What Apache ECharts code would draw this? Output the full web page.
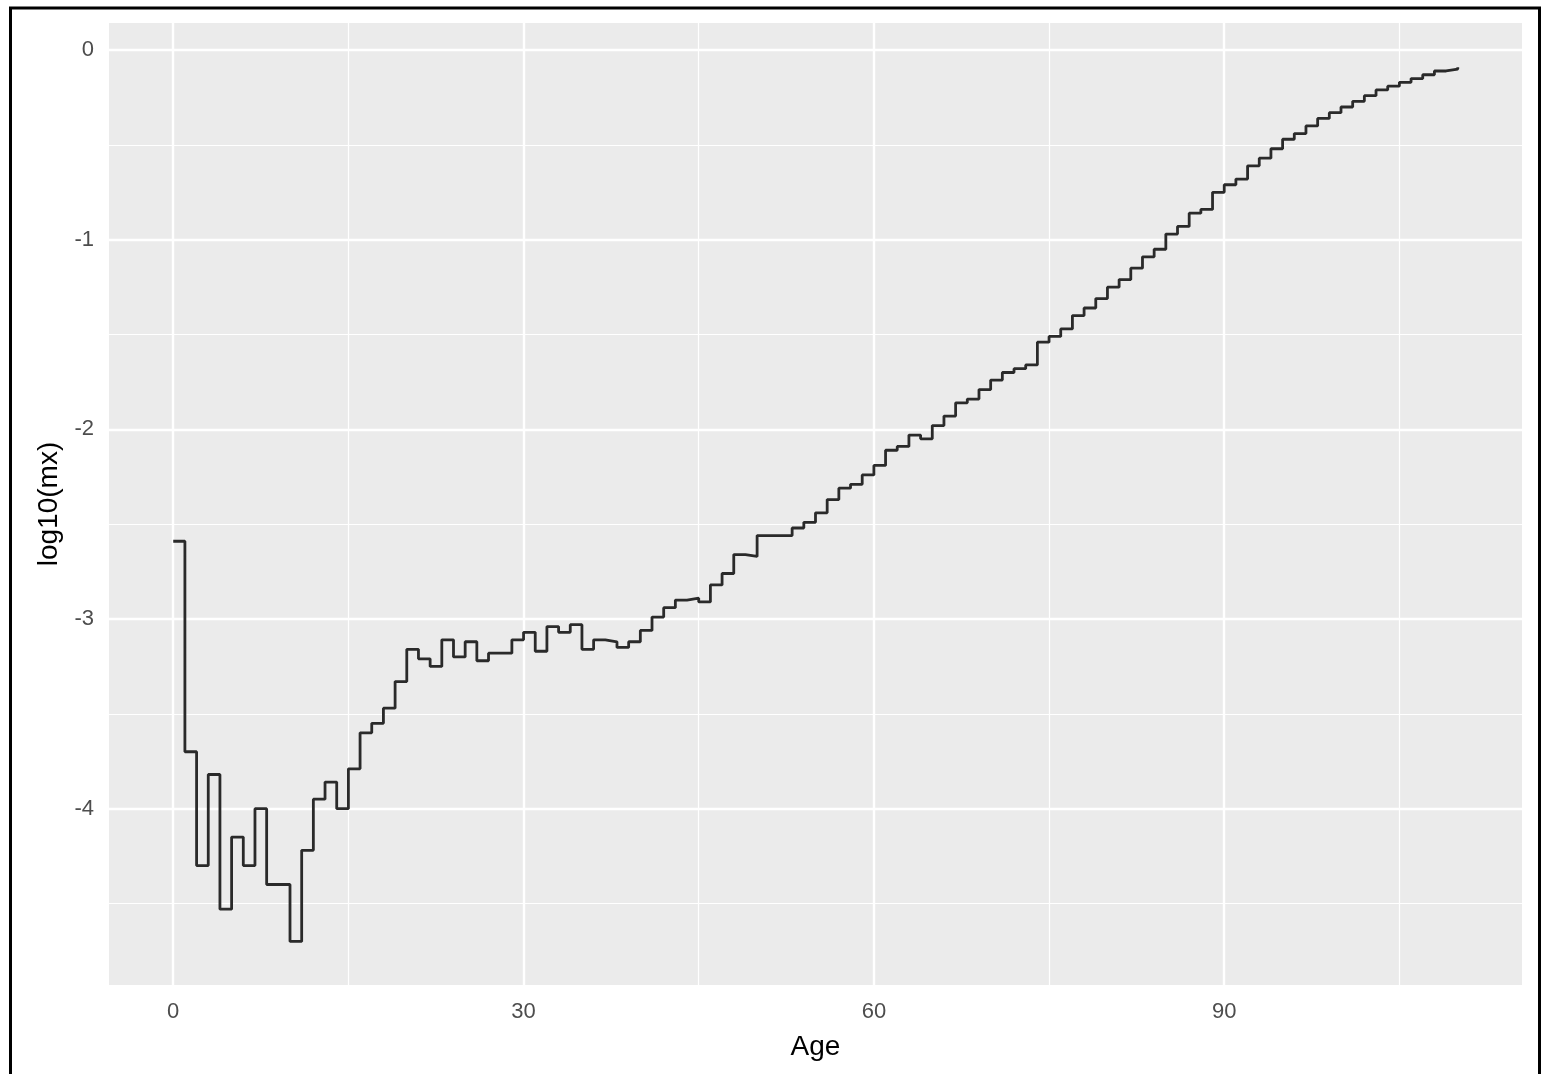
<!DOCTYPE html>
<html>
<head>
<meta charset="utf-8">
<title>log10(mx) by age</title>
<script src="https://cdn.jsdelivr.net/npm/echarts@6/dist/echarts.min.js"></script>
<style>
  html, body { margin: 0; padding: 0; background: #fff; }
  #chart { width: 1541px; height: 1074px; }
</style>
</head>
<body>
<div id="chart"></div>
<script>
// ages 0..110 and log10 death rates
var ages = [
  0, 1, 2, 3, 4, 5, 6, 7, 8, 9,
  10, 11, 12, 13, 14, 15, 16, 17, 18, 19,
  20, 21, 22, 23, 24, 25, 26, 27, 28, 29,
  30, 31, 32, 33, 34, 35, 36, 37, 38, 39,
  40, 41, 42, 43, 44, 45, 46, 47, 48, 49,
  50, 51, 52, 53, 54, 55, 56, 57, 58, 59,
  60, 61, 62, 63, 64, 65, 66, 67, 68, 69,
  70, 71, 72, 73, 74, 75, 76, 77, 78, 79,
  80, 81, 82, 83, 84, 85, 86, 87, 88, 89,
  90, 91, 92, 93, 94, 95, 96, 97, 98, 99,
  100, 101, 102, 103, 104, 105, 106, 107, 108, 109,
  110
];
var logMx = [
  -2.59, -3.70, -4.30, -3.82, -4.53, -4.15, -4.30, -4.00, -4.40, -4.40,
  -4.70, -4.22, -3.95, -3.86, -4.00, -3.79, -3.60, -3.55, -3.47, -3.33,
  -3.16, -3.21, -3.25, -3.11, -3.20, -3.12, -3.22, -3.18, -3.18, -3.11,
  -3.07, -3.17, -3.04, -3.07, -3.03, -3.16, -3.11, -3.12, -3.15, -3.12,
  -3.06, -2.99, -2.94, -2.90, -2.89, -2.91, -2.82, -2.76, -2.66, -2.67,
  -2.56, -2.56, -2.56, -2.52, -2.49, -2.44, -2.37, -2.31, -2.29, -2.24,
  -2.19, -2.11, -2.09, -2.03, -2.05, -1.98, -1.93, -1.86, -1.84, -1.79,
  -1.74, -1.70, -1.68, -1.66, -1.54, -1.51, -1.47, -1.40, -1.36, -1.31,
  -1.25, -1.21, -1.15, -1.09, -1.05, -0.97, -0.93, -0.86, -0.84, -0.75,
  -0.71, -0.68, -0.61, -0.57, -0.52, -0.47, -0.44, -0.40, -0.36, -0.33,
  -0.30, -0.27, -0.24, -0.21, -0.19, -0.17, -0.15, -0.13, -0.11, -0.10,
  -0.09
];
var xTicks = [0, 30, 60, 90];
var xMinor = [15, 45, 75, 105];
var yTicks = [0, -1, -2, -3, -4];
var yMinor = [-0.5, -1.5, -2.5, -3.5, -4.5];

var chart = echarts.init(document.getElementById('chart'));

var points = [];
for (var i = 0; i < ages.length; i++) {
  points.push([ages[i], logMx[i]]);
}

// ggplot-style panel grid, drawn as mark lines so they sit at the data values
var gridLines = [];
xMinor.forEach(function (v) { gridLines.push({ xAxis: v, lineStyle: { width: 1.2 } }); });
yMinor.forEach(function (v) { gridLines.push({ yAxis: v, lineStyle: { width: 1.2 } }); });
xTicks.forEach(function (v) { gridLines.push({ xAxis: v, lineStyle: { width: 2.4 } }); });
yTicks.forEach(function (v) { gridLines.push({ yAxis: v, lineStyle: { width: 2.4 } }); });

var option = {
  animation: false,
  backgroundColor: '#ffffff',
  textStyle: { fontFamily: 'Liberation Sans, Arial, sans-serif' },
  graphic: [
    {
      type: 'rect',
      shape: { x: 10.5, y: 8, width: 1529, height: 1100 },
      style: { fill: 'none', stroke: '#000', lineWidth: 3 },
      z: 100
    }
  ],
  grid: {
    left: 109,
    right: 19,
    top: 23,
    bottom: 89,
    show: true,
    backgroundColor: '#EBEBEB',
    borderWidth: 0
  },
  xAxis: {
    type: 'value',
    min: -5.5,
    max: 115.5,
    name: 'Age',
    nameLocation: 'middle',
    nameGap: 48,
    nameTextStyle: { fontSize: 28, color: '#000' },
    axisLine: { show: false },
    axisTick: { show: true, length: 7, customValues: xTicks, lineStyle: { color: '#333', width: 2 } },
    axisLabel: { customValues: xTicks, fontSize: 22, color: '#4D4D4D', margin: 16 },
    splitLine: { show: false }
  },
  yAxis: {
    type: 'value',
    min: -4.93,
    max: 0.143,
    name: 'log10(mx)',
    nameLocation: 'middle',
    nameRotate: 90,
    nameGap: 45,
    nameTextStyle: { fontSize: 28, color: '#000' },
    axisLine: { show: false },
    axisTick: { show: true, length: 7, customValues: yTicks, lineStyle: { color: '#333', width: 2 } },
    axisLabel: { customValues: yTicks, fontSize: 22, color: '#4D4D4D', margin: 15 },
    splitLine: { show: false }
  },
  series: [
    {
      name: 'grid',
      type: 'line',
      data: [],
      z: 1,
      silent: true,
      markLine: {
        silent: true,
        symbol: ['none', 'none'],
        label: { show: false },
        lineStyle: { color: '#ffffff', type: 'solid' },
        emphasis: { disabled: true },
        data: gridLines
      }
    },
    {
      name: 'log10(mx)',
      type: 'line',
      step: 'end',
      data: points,
      z: 5,
      showSymbol: false,
      lineStyle: { color: '#2a2a2a', width: 2.8 }
    }
  ]
};

chart.setOption(option);
</script>
</body>
</html>
